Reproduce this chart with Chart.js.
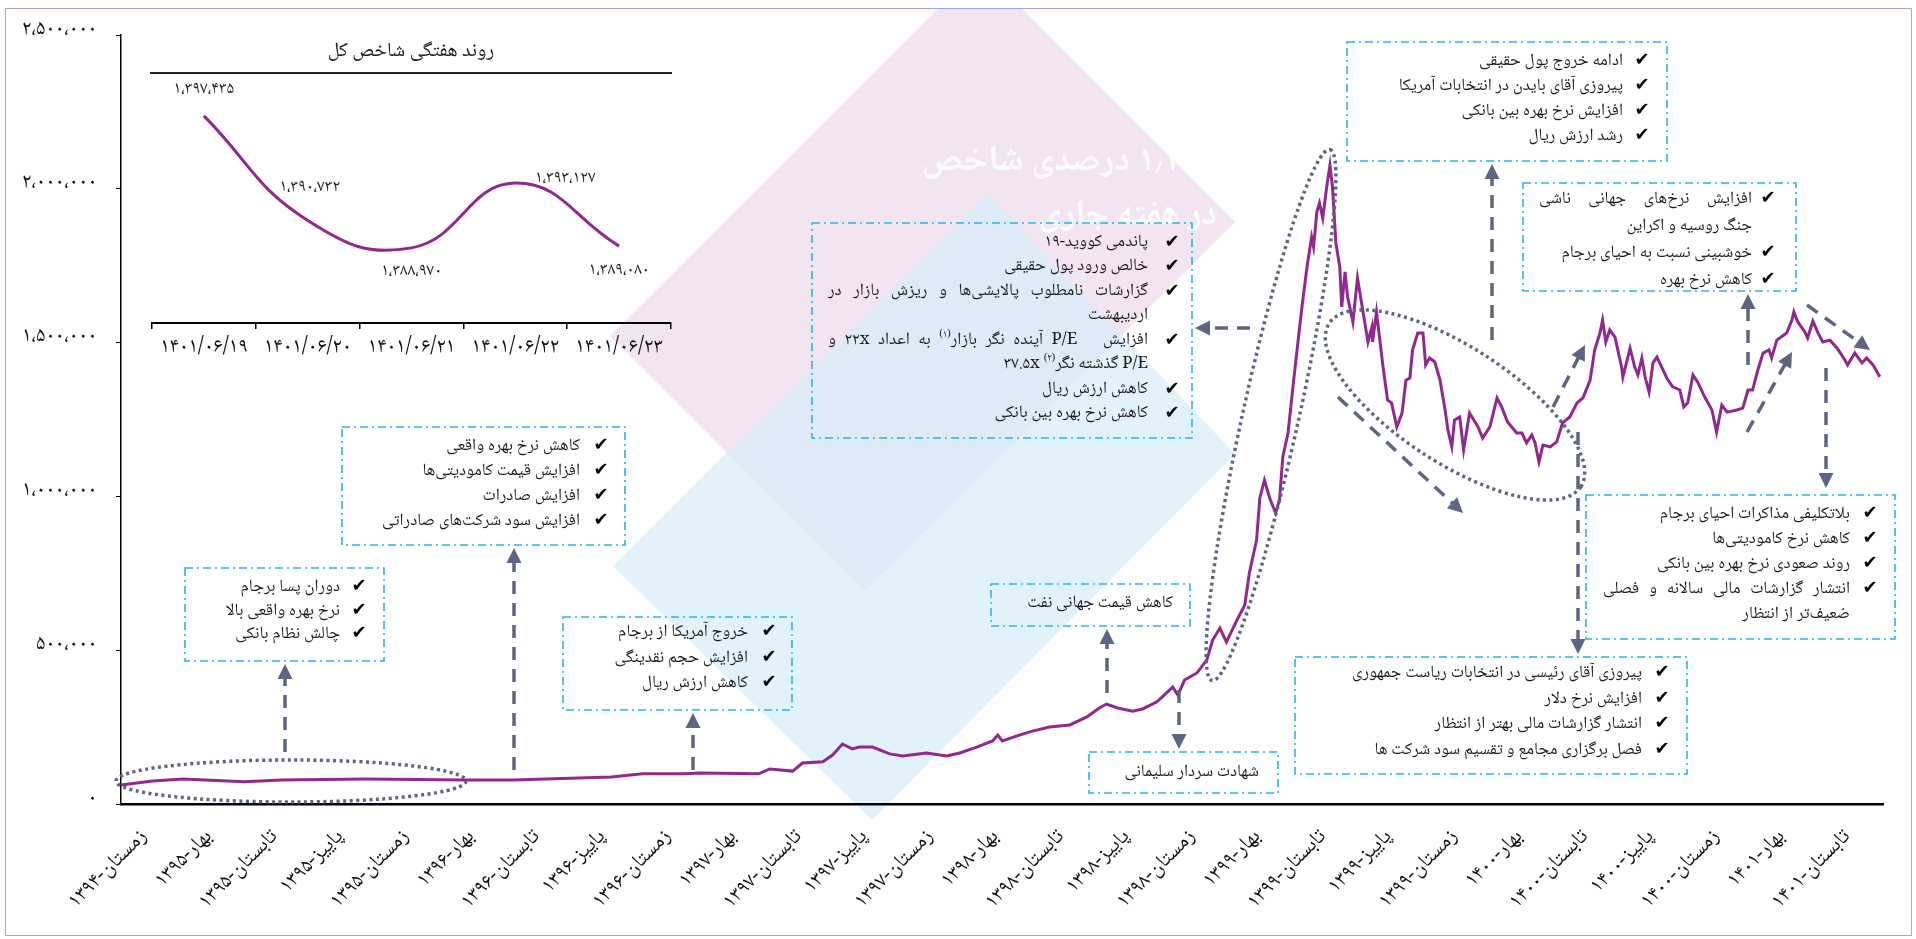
<!DOCTYPE html>
<html lang="fa">
<head>
<meta charset="utf-8">
<title>روند شاخص کل</title>
<script src="https://cdn.jsdelivr.net/npm/chart.js@4.4.0/dist/chart.umd.min.js"></script>
<style>
html, body { margin: 0; padding: 0; background: #fff; overflow: hidden; }
#wrap { position: relative; width: 1916px; height: 939px; font-family: 'Noto Naskh Arabic', 'Noto Sans Arabic', 'DejaVu Sans', sans-serif; color: #1a1a1a; }
#wrap > * { position: absolute; }
#bg, #main, #deco { left: 0; top: 0; }
#inset { left: 100px; top: 60px; }
#deco { pointer-events: none; }
.wm { color: #fff; font-weight: bold; direction: rtl; text-align: right; white-space: nowrap; opacity: .92; }
.box { direction: rtl; }
.it { position: relative; white-space: nowrap; text-align: right; }
.it .j { display: block; text-align: justify; text-align-last: justify; }
.ck { position: absolute; width: 18px; text-align: center; font-size: 18px; color: #000; }
sup { font-size: 60%; line-height: 0; }
#insetTitle { left: 150px; top: 34px; width: 522px; height: 38px; border-bottom: 2px solid #222; text-align: center; font-size: 20px; direction: rtl; line-height: 36px; }
#frame { left: 5px; top: 8px; width: 1905px; height: 926px; border: 1.5px solid #a3a3f3; pointer-events: none; }
</style>
</head>
<body>
<div id="wrap">
  <svg id="bg" width="1916" height="939">
    <defs><clipPath id="cp"><rect x="6" y="9" width="1904" height="925"/></clipPath></defs>
    <g clip-path="url(#cp)">
      <polygon points="610,336 865,591 1235,222 980,-33" fill="#f2e4f0"/>
      <polygon points="613,566 987,193 1235,454 872,820" fill="#d6ecf8" fill-opacity="0.7"/>
    </g>
  </svg>
  <div class="wm" style="left:860px;top:132px;width:320px;font-size:36px;">۱٫۱ درصدی شاخص</div>
  <div class="wm" style="left:960px;top:186px;width:257px;font-size:36px;">در هفته جاری</div>
  <canvas id="main" width="1916" height="939"></canvas>
  <div id="insetTitle">روند هفتگی شاخص کل</div>
  <canvas id="inset" width="620" height="320"></canvas>
  <svg id="deco" width="1916" height="939"></svg>
  <div id="frame"></div>
</div>
<script>
// quarters on the x axis
const QUARTERS = [
  'زمستان-۱۳۹۴', 'بهار-۱۳۹۵', 'تابستان-۱۳۹۵', 'پاییز-۱۳۹۵', 'زمستان-۱۳۹۵',
  'بهار-۱۳۹۶', 'تابستان-۱۳۹۶', 'پاییز-۱۳۹۶', 'زمستان-۱۳۹۶',
  'بهار-۱۳۹۷', 'تابستان-۱۳۹۷', 'پاییز-۱۳۹۷', 'زمستان-۱۳۹۷',
  'بهار-۱۳۹۸', 'تابستان-۱۳۹۸', 'پاییز-۱۳۹۸', 'زمستان-۱۳۹۸',
  'بهار-۱۳۹۹', 'تابستان-۱۳۹۹', 'پاییز-۱۳۹۹', 'زمستان-۱۳۹۹',
  'بهار-۱۴۰۰', 'تابستان-۱۴۰۰', 'پاییز-۱۴۰۰', 'زمستان-۱۴۰۰',
  'بهار-۱۴۰۱', 'تابستان-۱۴۰۱'
];

// position of each reading, in quarters from زمستان-۱۳۹۴
const INDEX_POS = [
  -0.37, 0.11, 0.58, 1.51, 2.08, 3.37, 4.87, 5.62, 7.11, 7.59,
  8.24, 8.46, 9.36, 9.53, 9.88, 10.03, 10.34, 10.49, 10.64, 10.79,
  10.90, 11.10, 11.36, 11.56, 11.92, 12.23, 12.43, 12.69, 12.93, 13.01,
  13.08, 13.34, 13.54, 13.80, 14.11, 14.37, 14.56, 14.67, 14.84, 15.07,
  15.22, 15.44, 15.68, 15.76, 15.86, 16.05, 16.20, 16.29, 16.40, 16.50,
  16.66, 16.78, 16.85, 16.96, 17.01, 17.08, 17.16, 17.25, 17.31, 17.36,
  17.44, 17.51, 17.59, 17.66, 17.73, 17.80, 17.83, 17.88, 17.92, 17.97,
  18.03, 18.08, 18.12, 18.17, 18.23, 18.26, 18.31, 18.35, 18.43, 18.50,
  18.58, 18.66, 18.72, 18.73, 18.79, 18.89, 18.96, 19.02, 19.10, 19.18,
  19.24, 19.30, 19.34, 19.42, 19.50, 19.54, 19.60, 19.68, 19.76, 19.83,
  19.88, 19.94, 19.98, 20.06, 20.12, 20.21, 20.34, 20.41, 20.52, 20.63,
  20.70, 20.79, 20.93, 21.01, 21.08, 21.16, 21.21, 21.27, 21.33, 21.44,
  21.54, 21.63, 21.74, 21.85, 21.94, 22.05, 22.12, 22.20, 22.24, 22.29,
  22.35, 22.43, 22.53, 22.55, 22.66, 22.73, 22.78, 22.84, 22.89, 22.95,
  23.01, 23.07, 23.15, 23.22, 23.31, 23.42, 23.48, 23.54, 23.62, 23.69,
  23.80, 23.91, 23.98, 24.06, 24.14, 24.29, 24.38, 24.46, 24.53, 24.61,
  24.69, 24.78, 24.82, 24.90, 25.05, 25.13, 25.16, 25.22, 25.33, 25.37,
  25.45, 25.53, 25.60, 25.71, 25.82, 25.94, 25.98, 26.09, 26.20, 26.27,
  26.37, 26.47
];

// total index, thousands
const INDEX_K = [
  62, 75, 81, 72, 78, 81, 78, 78, 88, 98,
  98, 101, 98, 114, 107, 133, 137, 159, 195, 179,
  185, 185, 163, 156, 166, 156, 166, 185, 205, 224,
  205, 224, 237, 250, 257, 283, 312, 325, 312, 302,
  309, 332, 380, 354, 403, 426, 468, 533, 572, 527,
  598, 647, 751, 858, 995, 1053, 995, 946, 988, 1128,
  1206, 1346, 1499, 1629, 1746, 1843, 1811, 1925, 1954, 1905,
  2006, 2077, 2003, 1824, 1746, 1616, 1730, 1648, 1567, 1710,
  1606, 1502, 1551, 1502, 1599, 1421, 1313, 1304, 1226, 1271,
  1378, 1385, 1476, 1531, 1531, 1427, 1450, 1437, 1378, 1291,
  1216, 1161, 1248, 1258, 1151, 1271, 1226, 1190, 1226, 1320,
  1291, 1242, 1206, 1206, 1174, 1200, 1174, 1112, 1167, 1161,
  1177, 1239, 1258, 1304, 1320, 1378, 1476, 1531, 1573, 1502,
  1541, 1518, 1421, 1388, 1482, 1421, 1395, 1450, 1388, 1339,
  1434, 1453, 1417, 1385, 1356, 1346, 1291, 1304, 1395, 1372,
  1323, 1281, 1209, 1297, 1274, 1281, 1287, 1346, 1346, 1411,
  1466, 1476, 1450, 1508, 1531, 1573, 1600, 1567, 1534, 1515,
  1570, 1531, 1502, 1508, 1482, 1443, 1427, 1466, 1434, 1450,
  1427, 1389
];

// weekly inset
const INSET_DAYS = ['۱۴۰۱/۰۶/۱۹', '۱۴۰۱/۰۶/۲۰', '۱۴۰۱/۰۶/۲۱', '۱۴۰۱/۰۶/۲۲', '۱۴۰۱/۰۶/۲۳'];
const INSET_VALUES = [1397435, 1390732, 1388970, 1393127, 1389080];
const INSET_LABEL_OFFSETS = [[0, -25], [2, -32], [0, 25], [50, -3], [0, 26]];

const FA = "'Noto Naskh Arabic', 'Noto Sans Arabic', 'DejaVu Sans', sans-serif";
const FA_DIGITS = '۰۱۲۳۴۵۶۷۸۹';
function fa(s) { return String(s).replace(/\d/g, d => FA_DIGITS[d]); }
function faNum(v) { return fa(Math.round(v).toLocaleString('en-US')).replace(/,/g, '،'); }

Chart.defaults.font.family = FA;
Chart.defaults.color = '#111';
Chart.defaults.animation = false;

new Chart(document.getElementById('main'), {
  type: 'line',
  data: {
    datasets: [{
      data: INDEX_POS.map((x, i) => ({ x: x, y: INDEX_K[i] * 1000 })),
      borderColor: '#90288e',
      borderWidth: 3,
      pointRadius: 0,
      tension: 0
    }]
  },
  options: {
    responsive: false,
    layout: { padding: { left: 0, right: 33, top: 35, bottom: 0 } },
    plugins: { legend: { display: false }, tooltip: { enabled: false } },
    scales: {
      x: {
        type: 'linear',
        min: -0.37,
        max: 26.52,
        afterBuildTicks: s => { s.ticks = QUARTERS.map((_, i) => ({ value: i })); },
        afterFit: s => { s.height = 135; },
        ticks: {
          autoSkip: false, minRotation: 45, maxRotation: 45, padding: 22,
          font: { size: 21 },
          callback: v => QUARTERS[Math.round(v)]
        },
        grid: { display: true, drawOnChartArea: false, drawTicks: false },
        border: { color: '#000', width: 2.5 }
      },
      y: {
        min: 0,
        max: 2500000,
        afterFit: s => { s.width = 121; },
        ticks: { stepSize: 500000, padding: 19, labelOffset: -4, font: { size: 21 }, callback: v => faNum(v) },
        grid: { drawOnChartArea: false, tickLength: 5, color: '#000' },
        border: { color: '#000', width: 1.5 }
      }
    }
  }
});

new Chart(document.getElementById('inset'), {
  type: 'line',
  data: {
    labels: INSET_DAYS,
    datasets: [{
      data: INSET_VALUES,
      borderColor: '#90288e',
      borderWidth: 3,
      pointRadius: 0,
      tension: 0.45,
      clip: false
    }]
  },
  options: {
    responsive: false,
    layout: { padding: { left: 52, right: 49, top: 20, bottom: 0 } },
    plugins: { legend: { display: false }, tooltip: { enabled: false } },
    scales: {
      x: {
        offset: true,
        afterFit: s => { s.height = 57; },
        ticks: { padding: 8, font: { size: 21 } },
        grid: { offset: true, drawOnChartArea: false, tickLength: 6, color: '#000', lineWidth: 1.5 },
        border: { color: '#000', width: 2 }
      },
      y: { display: false, min: 1384150, max: 1399740 }
    }
  },
  plugins: [{
    id: 'insetLabels',
    afterDatasetsDraw(chart) {
      const ctx = chart.ctx;
      ctx.save();
      ctx.font = '17px ' + FA;
      ctx.fillStyle = '#222';
      ctx.textAlign = 'center';
      ctx.textBaseline = 'middle';
      chart.getDatasetMeta(0).data.forEach((p, i) => {
        const o = INSET_LABEL_OFFSETS[i];
        ctx.fillText(faNum(INSET_VALUES[i]), p.x + o[0], p.y + o[1]);
      });
      ctx.restore();
    }
  }]
});

// annotation boxes: rect, check x, text right/left, first line centre, line height
const ZW = '\u200c';
const BOXES = [
  { r: [185, 568, 199, 93], chk: 359, right: 340, left: 200, top: 588, lh: 23.5,
    items: [['دوران پسا برجام'], ['نرخ بهره واقعی بالا'], ['چالش نظام بانکی']] },
  { r: [342, 427, 283, 118], chk: 601, right: 580, left: 355, top: 446, lh: 25,
    items: [['کاهش نرخ بهره واقعی'], ['افزایش قیمت کامودیتی' + ZW + 'ها'], ['افزایش صادرات'], ['افزایش سود شرکت' + ZW + 'های صادراتی']] },
  { r: [563, 617, 229, 93], chk: 769, right: 748, left: 575, top: 633, lh: 25.5,
    items: [['خروج آمریکا از برجام'], ['افزایش حجم نقدینگی'], ['کاهش ارزش ریال']] },
  { r: [991, 584, 199, 42], chk: null, right: 1173, left: 1005, top: 604, lh: 24,
    items: [['کاهش قیمت جهانی نفت']] },
  { r: [1089, 752, 189, 41], chk: null, right: 1259, left: 1105, top: 773, lh: 24,
    items: [['شهادت سردار سلیمانی']] },
  { r: [812, 223, 380, 215], chk: 1172, right: 1148, left: 828, top: 243, lh: 24.5,
    items: [['پاندمی کووید-۱۹'], ['خالص ورود پول حقیقی'],
      ['گزارشات نامطلوب پالایشی' + ZW + 'ها و ریزش بازار در', 'اردیبهشت'],
      ['افزایش&nbsp;&nbsp; P/E آینده نگر بازار<sup>(۱)</sup> به اعداد ۲۲x و', 'P/E گذشته نگر<sup>(۲)</sup> ۳۷.۵x'],
      ['کاهش ارزش ریال'], ['کاهش نرخ بهره بین بانکی']] },
  { r: [1347, 42, 320, 119], chk: 1642, right: 1623, left: 1360, top: 61, lh: 25,
    items: [['ادامه خروج پول حقیقی'], ['پیروزی آقای بایدن در انتخابات آمریکا'], ['افزایش نرخ بهره بین بانکی'], ['رشد ارزش ریال']] },
  { r: [1523, 183, 273, 108], chk: 1768, right: 1752, left: 1539, top: 199, lh: 27,
    items: [['افزایش نرخ' + ZW + 'های جهانی ناشی', 'جنگ روسیه و اکراین'], ['خوشبینی نسبت به احیای برجام'], ['کاهش نرخ بهره']] },
  { r: [1586, 495, 309, 144], chk: 1870, right: 1850, left: 1603, top: 514, lh: 25,
    items: [['بلاتکلیفی مذاکرات احیای برجام'], ['کاهش نرخ کامودیتی' + ZW + 'ها'], ['روند صعودی نرخ بهره بین بانکی'],
      ['انتشار گزارشات مالی سالانه و فصلی', 'ضعیف' + ZW + 'تر از انتظار']] },
  { r: [1295, 657, 392, 117], chk: 1662, right: 1642, left: 1310, top: 674, lh: 25.5,
    items: [['پیروزی آقای رئیسی در انتخابات ریاست جمهوری'], ['افزایش نرخ دلار'], ['انتشار گزارشات مالی بهتر از انتظار'], ['فصل برگزاری مجامع و تقسیم سود شرکت ها']] }
];

// dashed arrows: from x,y to tip x,y
const ARROWS = [
  [285, 752, 285, 664], [514, 770, 514, 548], [693, 770, 693, 713], [1107, 693, 1107, 629],
  [1179, 690, 1179, 749], [1250, 328, 1195, 328], [1492, 340, 1492, 164], [1338, 397, 1463, 513],
  [1553, 407, 1585, 345], [1578, 432, 1578, 654], [1748, 365, 1748, 294], [1747, 432, 1792, 352],
  [1826, 368, 1826, 488], [1807, 305, 1870, 350]
];

const wrap = document.getElementById('wrap');
const deco = document.getElementById('deco');
const NS = 'http://www.w3.org/2000/svg';
function svgEl(tag, attrs) {
  const e = document.createElementNS(NS, tag);
  for (const k in attrs) e.setAttribute(k, attrs[k]);
  deco.appendChild(e);
  return e;
}

// dotted ellipses
const DOT = { fill: 'none', stroke: '#5d6582', 'stroke-width': 3.5, 'stroke-dasharray': '3 3.5' };
svgEl('ellipse', Object.assign({ cx: 291, cy: 781, rx: 175, ry: 21 }, DOT));
svgEl('ellipse', Object.assign({ cx: 1271, cy: 415, rx: 272, ry: 28, transform: 'rotate(-77.5 1271 415)' }, DOT));
svgEl('ellipse', Object.assign({ cx: 1455, cy: 405, rx: 150, ry: 58, transform: 'rotate(33 1455 405)' }, DOT));

ARROWS.forEach(a => {
  const dx = a[2] - a[0], dy = a[3] - a[1];
  const len = Math.hypot(dx, dy), ux = dx / len, uy = dy / len;
  svgEl('line', { x1: a[0], y1: a[1], x2: a[2] - ux * 12, y2: a[3] - uy * 12,
    stroke: '#5d6582', 'stroke-width': 3.5, 'stroke-dasharray': '13 9' });
  const bx = a[2] - ux * 15, by = a[3] - uy * 15;
  svgEl('polygon', { fill: '#5d6582',
    points: [a[2], a[3], bx - uy * 7.5, by + ux * 7.5, bx + uy * 7.5, by - ux * 7.5].join(' ') });
});

BOXES.forEach(b => {
  svgEl('rect', { x: b.r[0], y: b.r[1], width: b.r[2], height: b.r[3], fill: 'none',
    stroke: '#27b4ea', 'stroke-width': 1.6, 'stroke-dasharray': '8 4 2 4' });
  const t = document.createElement('div');
  t.className = 'box';
  t.style.cssText = 'left:' + b.left + 'px;top:' + (b.top - b.lh / 2) + 'px;width:' + (b.right - b.left) +
    'px;font-size:17px;line-height:' + b.lh + 'px;';
  b.items.forEach(lines => {
    const it = document.createElement('div');
    it.className = 'it';
    it.innerHTML = lines.map((l, i) => i < lines.length - 1 ? '<span class="j">' + l + '</span>' : l).join('');
    if (b.chk !== null) {
      const ck = document.createElement('span');
      ck.className = 'ck';
      ck.textContent = '✔';
      ck.style.right = -(b.chk - b.right + 9) + 'px';
      ck.style.top = '0px';
      it.appendChild(ck);
    }
    t.appendChild(it);
  });
  wrap.appendChild(t);
});
</script>
</body>
</html>
